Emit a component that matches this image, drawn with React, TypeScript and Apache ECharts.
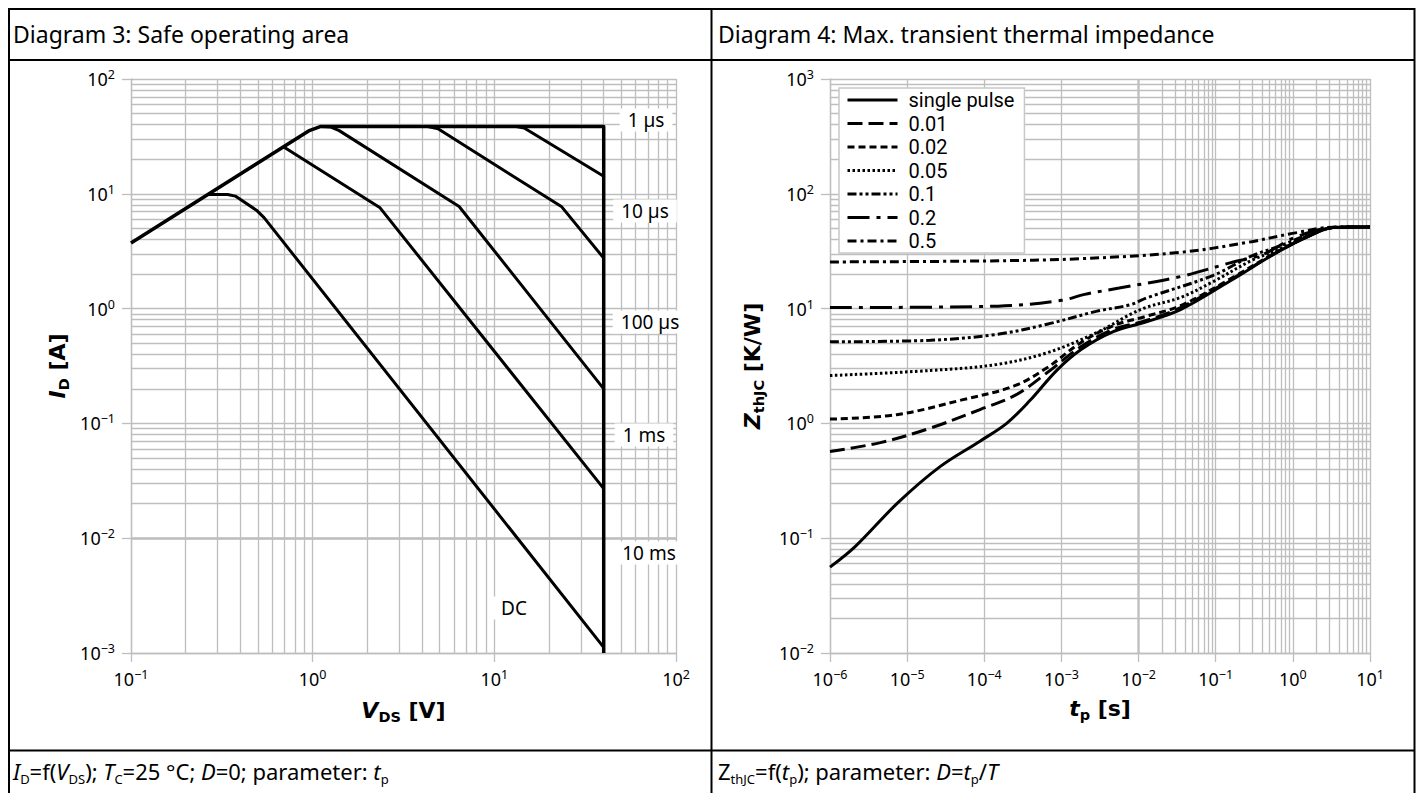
import React, { useEffect, useRef } from "react";
import * as echarts from "echarts";

// ---------- Diagram 3: Safe operating area (V_DS [V], I_D [A]) ----------
const soaBoundary = [[0.1, 3.72], [0.95, 35.3], [1.1, 38.5], [40, 38.5], [40, 0.001]];
const soa1us = [[13.2, 38.5], [14.6, 37.4], [40, 14.2]];
const soa10us = [[4.3, 38.5], [4.9, 36.8], [23.5, 7.7], [40, 2.75]];
const soa100us = [[1.1, 38.5], [1.25, 38.2], [1.4, 35.5], [6.4, 7.75], [40, 0.2]];
const soa1ms = [[0.69, 25.7], [2.35, 7.55], [40, 0.027]];
const soaDC = [[0.265, 9.86], [0.34, 9.86], [0.375, 9.55], [0.49, 7.2], [0.54, 6.2], [40, 0.00112]];
const soaLabels = ["1 µs", "10 µs", "100 µs", "1 ms", "10 ms", "DC"];

// ---------- Diagram 4: Max. transient thermal impedance (t_p [s], Z_thJC [K/W]) ----------
const zthNames = ["single pulse", "0.01", "0.02", "0.05", "0.1", "0.2", "0.5"];
const zthSingle = [[1e-6, 0.056], [2.1e-6, 0.084], [7.6e-6, 0.204], [2.67e-5, 0.42], [8.8e-5, 0.7], [1.95e-4, 1.0], [3.9e-4, 1.58], [8.7e-4, 2.9], [1.8e-3, 4.4], [4.7e-3, 6.3], [1.2e-2, 7.6], [3.5e-2, 9.8], [0.153, 17.4], [0.675, 31.8], [1.82, 44.4], [3.3, 50.8], [10, 51.5]];
const zth001 = [[1e-6, 0.57], [4.5e-6, 0.68], [2e-5, 0.91], [8.8e-5, 1.32], [2.6e-4, 1.78], [6.5e-4, 2.76], [1.74e-3, 4.6], [4.7e-3, 6.6], [1.2e-2, 7.8], [3.5e-2, 10.2], [0.153, 17.7], [0.675, 32], [1.82, 44.5], [3.3, 50.8], [10, 51.5]];
const zth002 = [[1e-6, 1.09], [7.3e-6, 1.19], [5.3e-5, 1.61], [2.4e-4, 2.11], [6.5e-4, 3.05], [1.74e-3, 5.0], [4.7e-3, 7.1], [1.2e-2, 8.5], [3.5e-2, 10.6], [0.153, 18.1], [0.675, 32.2], [1.82, 44.6], [3.3, 50.8], [10, 51.5]];
const zth005 = [[1e-6, 2.61], [2e-5, 2.89], [1.45e-4, 3.26], [6.5e-4, 4.12], [2.9e-3, 6.2], [7.8e-3, 8.9], [1.28e-2, 10.3], [3.5e-2, 12.5], [9.3e-2, 17.2], [0.3, 26.5], [0.675, 33], [1.82, 45], [3.3, 50.8], [10, 51.5]];
const zth01 = [[1e-6, 5.14], [2e-5, 5.3], [1.45e-4, 5.96], [6.5e-4, 7.3], [2.9e-3, 9.5], [7.8e-3, 10.8], [1.28e-2, 12.4], [9.3e-2, 19.5], [0.3, 29], [0.675, 35], [1.82, 46], [3.3, 51], [10, 51.5]];
const zth02 = [[1e-6, 10.2], [1.5e-4, 10.5], [1e-3, 11.8], [2e-3, 13.3], [5.6e-3, 15.1], [3.5e-2, 19], [0.153, 25], [0.41, 29.7], [1.1, 42], [3.3, 50.8], [10, 51.5]];
const zth05 = [[1e-6, 25.5], [1e-4, 26], [1.74e-3, 27.2], [3.5e-2, 30.9], [0.25, 37.6], [1.12, 45.9], [3.3, 51.2], [10, 51.5]];
const zthSeries = [zthSingle, zth001, zth002, zth005, zth01, zth02, zth05];
const zthDash: (number[] | "solid")[] = ["solid", [15, 6], [7, 4], [2.5, 2.5], [9, 3, 3, 3, 3, 3], [22, 7, 4, 7], [9, 4, 3, 4]];

const GRID = "#bebebe";
const TXT = "'Noto Sans', 'Open Sans', sans-serif";
const LEG = "Roboto, 'Noto Sans', sans-serif";
const BOLD = "'DejaVu Sans', 'Noto Sans', sans-serif";

function expLabel(v: number) {
  const e = Math.round(Math.log10(v));
  const s = e < 0 ? "\u2212" + Math.abs(e) : String(e);
  return "{b|10}{s|" + s + "}";
}

function minorValues(lo: number, hi: number) {
  const out: number[] = [];
  for (let e = lo; e < hi; e++) for (let m = 2; m <= 9; m++) out.push(m * Math.pow(10, e));
  return out;
}

const tickRich = {
  b: { fontFamily: TXT, fontSize: 18, color: "#000", lineHeight: 22 },
  s: { fontFamily: TXT, fontSize: 12.5, color: "#000", lineHeight: 14, verticalAlign: "top" },
};

const nameRich = {
  i: { fontFamily: BOLD, fontWeight: "bold", fontStyle: "italic", fontSize: 22, lineHeight: 27, color: "#000" },
  s: { fontFamily: BOLD, fontWeight: "bold", fontSize: 14.5, lineHeight: 19, verticalAlign: "bottom", color: "#000" },
  n: { fontFamily: BOLD, fontWeight: "bold", fontSize: 22, lineHeight: 27, color: "#000" },
};

function logAxis(gridIndex: number, min: number, max: number, splitNumber: number, name: string, nameGap: number, isY: boolean) {
  return {
    type: "log",
    logBase: 10,
    gridIndex,
    min,
    max,
    splitNumber,
    name,
    nameLocation: "middle",
    nameGap,
    nameRotate: isY ? 90 : 0,
    nameTextStyle: { rich: nameRich },
    axisLine: { show: true, lineStyle: { color: GRID, width: 1.3 } },
    axisTick: { show: true, length: 9, lineStyle: { color: GRID, width: 1.3 } },
    axisLabel: { formatter: expLabel, rich: tickRich, margin: isY ? 16 : 15 },
    splitLine: { show: true, lineStyle: { color: GRID, width: 1.3 } },
  };
}

function gridSeries(idx: number, xs: number[], ys: number[], anchor: number[]) {
  return {
    type: "line",
    xAxisIndex: idx,
    yAxisIndex: idx,
    data: [anchor],
    symbol: "none",
    lineStyle: { width: 0, opacity: 0 },
    silent: true,
    z: 1,
    markLine: {
      silent: true,
      z: 1,
      symbol: ["none", "none"],
      label: { show: false },
      emphasis: { disabled: true },
      lineStyle: { color: GRID, width: 1.3, type: "solid" },
      data: [...xs.map((v) => ({ xAxis: v })), ...ys.map((v) => ({ yAxis: v }))],
    },
  };
}

const footRich = {
  n: { fontFamily: TXT, fontSize: 22, lineHeight: 28, fill: "#000" },
  i: { fontFamily: TXT, fontSize: 22, fontStyle: "italic", lineHeight: 28, fill: "#000" },
  s: { fontFamily: TXT, fontSize: 13, lineHeight: 17, verticalAlign: "bottom", fill: "#000" },
};

function line(x1: number, y1: number, x2: number, y2: number) {
  return { type: "line", z: 60, shape: { x1, y1, x2, y2 }, style: { stroke: "#000", lineWidth: 2 } };
}

function boxLabel(text: string, x: number, y: number) {
  return {
    type: "text",
    z: 50,
    x,
    y,
    style: {
      text,
      fontFamily: TXT,
      fontSize: 19,
      fill: "#000",
      align: "center",
      verticalAlign: "middle",
      backgroundColor: "#fff",
      padding: [2, 8],
    },
  };
}

export default function App() {
  const ref = useRef<HTMLDivElement>(null);
  useEffect(() => {
    if (!ref.current) return;
    const chart = echarts.init(ref.current, undefined, { renderer: "svg" });
    const soaLine = (data: number[][], width: number) => ({
      type: "line",
      xAxisIndex: 0,
      yAxisIndex: 0,
      data,
      symbol: "none",
      silent: true,
      z: 3,
      lineStyle: { color: "#000", width, join: "round" },
    });
    const zthLines = zthSeries.map((data, k) => ({
      name: zthNames[k],
      type: "line",
      xAxisIndex: 1,
      yAxisIndex: 1,
      data,
      symbol: "none",
      smooth: 0.35,
      silent: true,
      z: 3,
      itemStyle: { color: "#000" },
      lineStyle: { color: "#000", width: 3, type: zthDash[k] },
    }));
    const labelPos = [[646, 120], [645, 211], [650, 322], [644, 435], [649, 553], [514, 608]];
    chart.setOption({
      animation: false,
      backgroundColor: "#fff",
      grid: [
        { left: 131, top: 79, width: 545, height: 574, outerBoundsMode: "none" },
        { left: 830, top: 79, width: 540, height: 574, outerBoundsMode: "none" },
      ],
      xAxis: [
        logAxis(0, 0.1, 100, 3, "{i|V}{s|DS}{n| [V]}", 44, false),
        logAxis(1, 1e-6, 10, 7, "{i|t}{s|p}{n| [s]}", 42, false),
      ],
      yAxis: [
        logAxis(0, 0.001, 100, 5, "{i|I}{s|D}{n| [A]}", 60, true),
        logAxis(1, 0.01, 1000, 5, "{i|Z}{s|thJC}{n| [K/W]}", 64, true),
      ],
      legend: {
        data: zthNames,
        orient: "vertical",
        left: 839,
        top: 88,
        itemWidth: 50,
        itemHeight: 14,
        itemGap: 3.5,
        padding: [2, 10, 2, 7],
        backgroundColor: "#fff",
        borderColor: "#c8c8c8",
        borderWidth: 1.5,
        selectedMode: false,
        z: 10,
        itemStyle: { opacity: 0 },
        lineStyle: { color: "#000", width: 3 },
        textStyle: { fontFamily: LEG, fontSize: 20, color: "#000", lineHeight: 20, padding: [0, 0, 0, 6] },
      },
      series: [
        gridSeries(0, minorValues(-1, 2), minorValues(-3, 2), [1, 1]),
        gridSeries(1, minorValues(-6, 1), minorValues(-2, 3), [1, 1]),
        soaLine(soaBoundary, 3.5),
        soaLine(soa1us, 3),
        soaLine(soa10us, 3),
        soaLine(soa100us, 3),
        soaLine(soa1ms, 3),
        soaLine(soaDC, 3),
        ...zthLines,
      ],
      graphic: [
        line(8, 9, 1415, 9),
        line(8, 60, 1415, 60),
        line(8, 750.5, 1415, 750.5),
        line(9, 8, 9, 800),
        line(711.5, 8, 711.5, 800),
        line(1414.5, 8, 1414.5, 800),
        {
          type: "text", z: 60, x: 13, y: 34,
          style: { text: "Diagram 3: Safe operating area", fontFamily: TXT, fontSize: 23, fill: "#000", verticalAlign: "middle" },
        },
        {
          type: "text", z: 60, x: 718, y: 34,
          style: { text: "Diagram 4: Max. transient thermal impedance", fontFamily: TXT, fontSize: 23, fill: "#000", verticalAlign: "middle" },
        },
        {
          type: "text", z: 60, x: 13, y: 771,
          style: {
            text: "{i|I}{s|D}{n|=f(}{i|V}{s|DS}{n|); }{i|T}{s|C}{n|=25 °C; }{i|D}{n|=0; parameter: }{i|t}{s|p}",
            rich: footRich, verticalAlign: "middle",
          },
        },
        {
          type: "text", z: 60, x: 718, y: 771,
          style: {
            text: "{n|Z}{s|thJC}{n|=f(}{i|t}{s|p}{n|); parameter: }{i|D}{n|=}{i|t}{s|p}{n|/}{i|T}",
            rich: footRich, verticalAlign: "middle",
          },
        },
        ...soaLabels.map((t, k) => boxLabel(t, labelPos[k][0], labelPos[k][1])),
      ],
    });
    return () => chart.dispose();
  }, []);
  return (
    <div
      ref={ref}
      style={{ position: "fixed", left: 0, top: 0, width: "1422px", height: "793px", background: "#fff" }}
    />
  );
}
